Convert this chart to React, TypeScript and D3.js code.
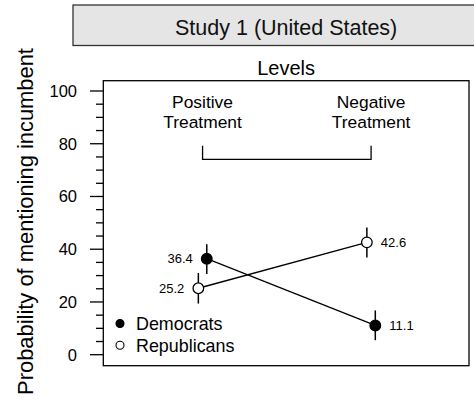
import React from "react";
import * as d3 from "d3";

const categories = ["Positive\nTreatment", "Negative\nTreatment"];
const parties = ["Democrats", "Republicans"];
const demValues = [36.4, 11.1];
const demLower = [30.6, 5.5];
const demUpper = [41.9, 16.8];
const repValues = [25.2, 42.6];
const repLower = [19.4, 36.9];
const repUpper = [31.0, 48.2];
const yTicks = [0, 20, 40, 60, 80, 100];
const yMinorTicks = d3.range(0, 101, 5);
const title = "Study 1 (United States)";
const subtitle = "Levels";
const yLabel = "Probability of mentioning incumbent";

const W = 474, H = 400;
const box = { left: 103.3, top: 80.7, right: 469, bottom: 365.7 };
const font = "Liberation Sans, Arial, Helvetica, sans-serif";

export default function App() {
  const x = d3.scaleLinear().domain([0.411, 2.581]).range([box.left, box.right]);
  const y = d3.scaleLinear().domain([0, 100]).range([354.7, 91]);
  const dodge = 0.025;
  const series = [
    { name: parties[0], vals: demValues, lo: demLower, hi: demUpper, off: dodge, fill: "#000" },
    { name: parties[1], vals: repValues, lo: repLower, hi: repUpper, off: -dodge, fill: "#fff" },
  ];
  const line = d3.line<[number, number]>().x(d => d[0]).y(d => d[1]);
  return (
    <svg width={W} height={H} style={{ position: "absolute", left: 0, top: 0 }} fontFamily={font}>
      <rect x={0} y={0} width={W} height={H} fill="#fff" />
      {/* strip header */}
      <rect x={73} y={5} width={430} height={40.5} fill="#e5e5e5" stroke="#333" strokeWidth={1.3} />
      <text x={(box.left + box.right) / 2} y={35} textAnchor="middle" fontSize={21.5} fill="#111">{title}</text>
      <text x={(box.left + box.right) / 2} y={75} textAnchor="middle" fontSize={20} fill="#000">{subtitle}</text>
      {/* plot box */}
      <rect x={box.left} y={box.top} width={box.right - box.left} height={box.bottom - box.top} fill="none" stroke="#000" strokeWidth={1.3} />
      {/* y axis */}
      {yMinorTicks.map(t => (
        <line key={"m" + t} x1={yTicks.includes(t) ? 90 : 96} x2={box.left} y1={y(t)} y2={y(t)} stroke="#000" strokeWidth={1.3} />
      ))}
      {yTicks.map(t => (
        <text key={"t" + t} x={77} y={y(t) + 5.8} textAnchor="end" fontSize={16.5} fill="#000">{t}</text>
      ))}
      <text transform={`translate(33,221.5) rotate(-90)`} textAnchor="middle" fontSize={21.9} fill="#000">{yLabel}</text>
      {/* category labels */}
      {categories.map((c, i) => (
        <text key={c} x={x(i + 1)} textAnchor="middle" fontSize={17.4} fill="#000">
          {c.split("\n").map((l, j) => (
            <tspan key={j} x={x(i + 1)} y={108.3 + j * 20}>{l}</tspan>
          ))}
        </text>
      ))}
      {/* bracket */}
      <path d={`M${x(1)},${y(79.2)}V${y(74.1)}H${x(2)}V${y(79.2)}`} fill="none" stroke="#000" strokeWidth={1.3} />
      {/* series */}
      {series.map(s => {
        const pts: [number, number][] = s.vals.map((v, i) => [x(i + 1 + s.off), y(v)]);
        return (
          <g key={s.name}>
            <path d={line(pts) || ""} fill="none" stroke="#000" strokeWidth={1.3} />
            {s.vals.map((v, i) => (
              <line key={"e" + i} x1={pts[i][0]} x2={pts[i][0]} y1={y(s.lo[i])} y2={y(s.hi[i])} stroke="#000" strokeWidth={1.5} />
            ))}
            {s.vals.map((v, i) => (
              <circle key={"c" + i} cx={pts[i][0]} cy={pts[i][1]} r={5.3} fill={s.fill} stroke="#000" strokeWidth={1.3} />
            ))}
            {s.vals.map((v, i) => (
              <text key={"l" + i} x={pts[i][0] + (i === 0 ? -14 : 14)} y={pts[i][1] + 4.5} textAnchor={i === 0 ? "end" : "start"} fontSize={13} fill="#000">{v.toFixed(1)}</text>
            ))}
          </g>
        );
      })}
      {/* legend */}
      {series.map((s, i) => (
        <g key={"lg" + s.name}>
          <circle cx={120} cy={323.5 + i * 21.7} r={4} fill={s.fill} stroke="#000" strokeWidth={1.1} />
          <text x={136} y={323.5 + i * 21.7 + 6.3} fontSize={17.9} fill="#000">{s.name}</text>
        </g>
      ))}
    </svg>
  );
}
